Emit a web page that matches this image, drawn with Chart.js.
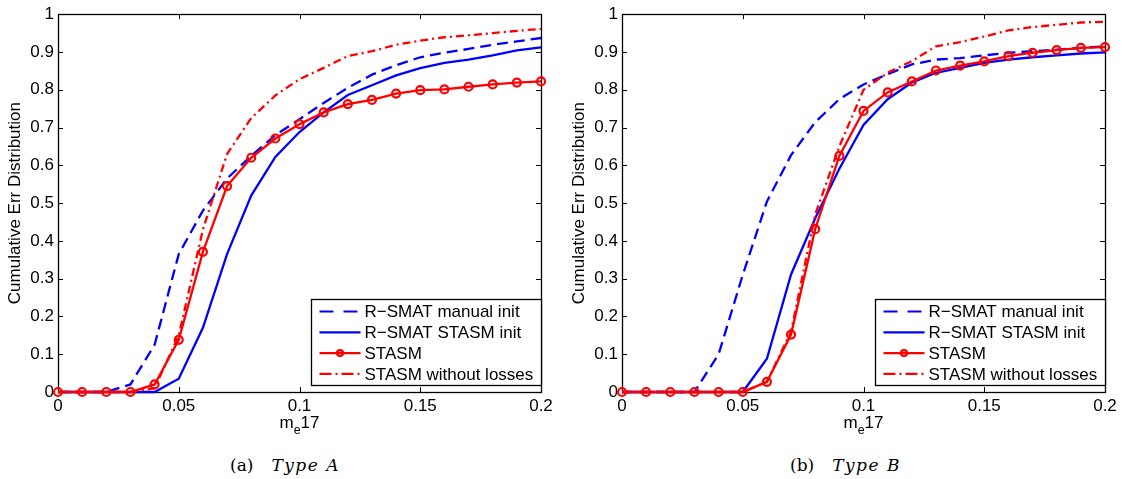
<!DOCTYPE html>
<html lang="en">
<head>
  <meta charset="UTF-8">
  <title>Cumulative Err Distribution</title>
  <style>
    body { margin: 0; background: #fff; width: 1122px; height: 479px; position: relative; overflow: hidden; }
    canvas { position: absolute; top: 0; }
    #chartA { left: 0; }
    #chartB { left: 561px; }
    .caption { position: absolute; top: 455px; font-family: 'DejaVu Serif', serif; font-size: 17px; line-height: 20px; color: #000; white-space: nowrap; }
    .caption i { letter-spacing: 1.5px; margin-left: 18px; }
  </style>
</head>
<body>
  <canvas id="chartA" width="561" height="440"></canvas>
  <canvas id="chartB" width="561" height="440"></canvas>
  <div class="caption" style="left:230px">(a)<i>Type A</i></div>
  <div class="caption" style="left:790px">(b)<i>Type B</i></div>

  <script src="https://cdn.jsdelivr.net/npm/chart.js"></script>
  <script>
    // eixo x (m_e17)
    const xValues = [0, 0.01, 0.02, 0.03, 0.04, 0.05, 0.06, 0.07, 0.08, 0.09, 0.10,
                     0.11, 0.12, 0.13, 0.14, 0.15, 0.16, 0.17, 0.18, 0.19, 0.20];
    const xTickValues = [0, 0.05, 0.1, 0.15, 0.2];
    const xTickLabels = ['0', '0.05', '0.1', '0.15', '0.2'];
    const yTickValues = [0, 0.1, 0.2, 0.3, 0.4, 0.5, 0.6, 0.7, 0.8, 0.9, 1];
    const yTickLabels = ['0', '0.1', '0.2', '0.3', '0.4', '0.5', '0.6', '0.7', '0.8', '0.9', '1'];

    const seriesNames = ['R\u2212SMAT manual init', 'R\u2212SMAT STASM init', 'STASM', 'STASM without losses'];

    // Type A
    const typeA_manual    = [0, 0, 0, 0.02, 0.125, 0.365, 0.48, 0.565, 0.625, 0.68, 0.722, 0.765, 0.805, 0.84, 0.865, 0.886, 0.898, 0.908, 0.919, 0.928, 0.937];
    const typeA_stasmInit = [0, 0, 0, 0, 0, 0.035, 0.17, 0.365, 0.52, 0.622, 0.688, 0.74, 0.786, 0.812, 0.838, 0.857, 0.871, 0.88, 0.891, 0.904, 0.912];
    const typeA_stasm     = [0, 0, 0, 0, 0.02, 0.138, 0.371, 0.545, 0.62, 0.671, 0.709, 0.74, 0.762, 0.773, 0.79, 0.799, 0.801, 0.808, 0.814, 0.819, 0.822];
    const typeA_noLoss    = [0, 0, 0, 0, 0.01, 0.15, 0.43, 0.63, 0.725, 0.785, 0.828, 0.858, 0.889, 0.902, 0.919, 0.93, 0.939, 0.944, 0.95, 0.956, 0.961];

    // Type B
    const typeB_manual    = [0, 0, 0, 0, 0.1, 0.31, 0.504, 0.627, 0.714, 0.775, 0.814, 0.841, 0.867, 0.88, 0.884, 0.891, 0.898, 0.902, 0.906, 0.911, 0.915];
    const typeB_stasmInit = [0, 0, 0, 0, 0, 0, 0.088, 0.311, 0.46, 0.591, 0.707, 0.775, 0.819, 0.845, 0.858, 0.871, 0.88, 0.886, 0.891, 0.896, 0.899];
    const typeB_stasm     = [0, 0, 0, 0, 0, 0, 0.027, 0.152, 0.431, 0.625, 0.744, 0.793, 0.822, 0.851, 0.864, 0.875, 0.889, 0.898, 0.905, 0.911, 0.913];
    const typeB_noLoss    = [0, 0, 0, 0, 0, 0, 0.027, 0.16, 0.47, 0.65, 0.80, 0.845, 0.876, 0.915, 0.926, 0.941, 0.957, 0.966, 0.972, 0.978, 0.98];

    // estilos
    const seriesColors = ['#0000ff', '#0000ff', '#ff0000', '#ff0000'];
    const seriesDash = [[11, 6], [], [], [8, 4, 2, 4]];
    const FONT = "'Liberation Sans', Arial, sans-serif";
    const FS = 17;

    Chart.defaults.color = '#000';
    Chart.defaults.font.family = FONT;
    Chart.defaults.font.size = FS;

    // moldura, ticks para dentro, legenda e titulo do eixo x
    const matlabAxes = {
      id: 'matlabAxes',
      beforeDatasetsDraw(chart) {
        const ctx = chart.ctx, a = chart.chartArea;
        const xs = chart.scales.x, ys = chart.scales.y;
        ctx.save();
        ctx.strokeStyle = '#000';
        ctx.lineWidth = 1;
        ctx.beginPath();
        xTickValues.forEach(v => {
          const px = Math.round(xs.getPixelForValue(v)) + 0.5;
          ctx.moveTo(px, a.bottom); ctx.lineTo(px, a.bottom - 5);
          ctx.moveTo(px, a.top); ctx.lineTo(px, a.top + 5);
        });
        yTickValues.forEach(v => {
          const py = Math.round(ys.getPixelForValue(v)) + 0.5;
          ctx.moveTo(a.left, py); ctx.lineTo(a.left + 5, py);
          ctx.moveTo(a.right, py); ctx.lineTo(a.right - 5, py);
        });
        ctx.stroke();
        ctx.lineWidth = 1.3;
        ctx.strokeRect(Math.round(a.left) + 0.5, Math.round(a.top) + 0.5,
                       Math.round(a.right - a.left), Math.round(a.bottom - a.top));
        ctx.restore();
      },
      afterDraw(chart) {
        const ctx = chart.ctx, a = chart.chartArea;
        ctx.save();
        // titulo do eixo x: m_e17
        const cx = (a.left + a.right) / 2;
        ctx.fillStyle = '#000';
        ctx.textBaseline = 'alphabetic';
        ctx.font = FS + 'px ' + FONT;
        const wm = ctx.measureText('m').width, w17 = ctx.measureText('17').width;
        ctx.font = '12.5px ' + FONT;
        const we = ctx.measureText('e').width;
        let x0 = cx - (wm + we + w17) / 2;
        ctx.font = FS + 'px ' + FONT;
        ctx.fillText('m', x0, 428);
        ctx.fillText('17', x0 + wm + we, 428);
        ctx.font = '12.5px ' + FONT;
        ctx.fillText('e', x0 + wm, 434);

        // legenda
        const bw = 230, bh = 86;
        const bx = Math.round(a.right - bw) + 0.5, by = Math.round(a.bottom - 7 - bh) + 0.5;
        ctx.fillStyle = '#fff';
        ctx.fillRect(bx, by, bw, bh);
        ctx.strokeStyle = '#000';
        ctx.lineWidth = 1.3;
        ctx.strokeRect(bx, by, bw, bh);
        ctx.font = FS + 'px ' + FONT;
        ctx.textBaseline = 'middle';
        seriesNames.forEach((name, i) => {
          const ry = by + 12 + i * 20.8;
          ctx.strokeStyle = seriesColors[i];
          ctx.lineWidth = 2.2;
          ctx.setLineDash(i === 0 ? [14, 10] : i === 3 ? [12, 4, 2, 4] : []);
          ctx.beginPath();
          ctx.moveTo(bx + 8, ry); ctx.lineTo(bx + 49, ry);
          ctx.stroke();
          ctx.setLineDash([]);
          if (i === 2) {
            ctx.beginPath();
            ctx.arc(bx + 28.5, ry, 3, 0, Math.PI * 2);
            ctx.stroke();
          }
          ctx.fillStyle = '#000';
          ctx.fillText(name, bx + 53, ry + 1);
        });
        ctx.restore();
      }
    };

    function makeChart(id, series, yWidth, rightPad, titlePad) {
      const datasets = series.map((vals, i) => ({
        label: seriesNames[i],
        data: xValues.map((x, j) => ({ x: x, y: vals[j] })),
        borderColor: seriesColors[i],
        borderWidth: 2.3,
        borderDash: seriesDash[i],
        pointRadius: i === 2 ? 4 : 0,
        pointBorderWidth: 2.2,
        pointBorderColor: seriesColors[i],
        pointBackgroundColor: 'rgba(0,0,0,0)',
        tension: 0,
        fill: false,
        clip: false,
        order: 3 - i
      }));

      return new Chart(document.getElementById(id).getContext('2d'), {
        type: 'line',
        data: { datasets: datasets },
        options: {
          responsive: false,
          animation: false,
          layout: { padding: { left: 0, right: rightPad, top: 11, bottom: 0 } },
          plugins: { legend: { display: false }, tooltip: { enabled: false } },
          scales: {
            x: {
              type: 'linear', min: 0, max: 0.2,
              afterBuildTicks: s => { s.ticks = xTickValues.map(v => ({ value: v })); },
              afterFit: s => { s.height = 48; },
              ticks: { callback: (v, i) => xTickLabels[i], padding: 4, autoSkip: false, maxRotation: 0 },
              grid: { display: false, drawTicks: false },
              border: { display: false }
            },
            y: {
              type: 'linear', min: 0, max: 1,
              afterBuildTicks: s => { s.ticks = yTickValues.map(v => ({ value: v })); },
              afterFit: s => { s.width = yWidth; },
              ticks: { callback: (v, i) => yTickLabels[i], padding: 4, autoSkip: false },
              grid: { display: false, drawTicks: false },
              border: { display: false },
              title: { display: true, text: 'Cumulative Err Distribution', padding: { top: titlePad, bottom: 0 } }
            }
          }
        },
        plugins: [matlabAxes]
      });
    }

    window.onload = function() {
      makeChart('chartA', [typeA_manual, typeA_stasmInit, typeA_stasm, typeA_noLoss], 58, 20, 5);
      makeChart('chartB', [typeB_manual, typeB_stasmInit, typeB_stasm, typeB_noLoss], 61, 17, 8);
    };
  </script>
</body>
</html>
